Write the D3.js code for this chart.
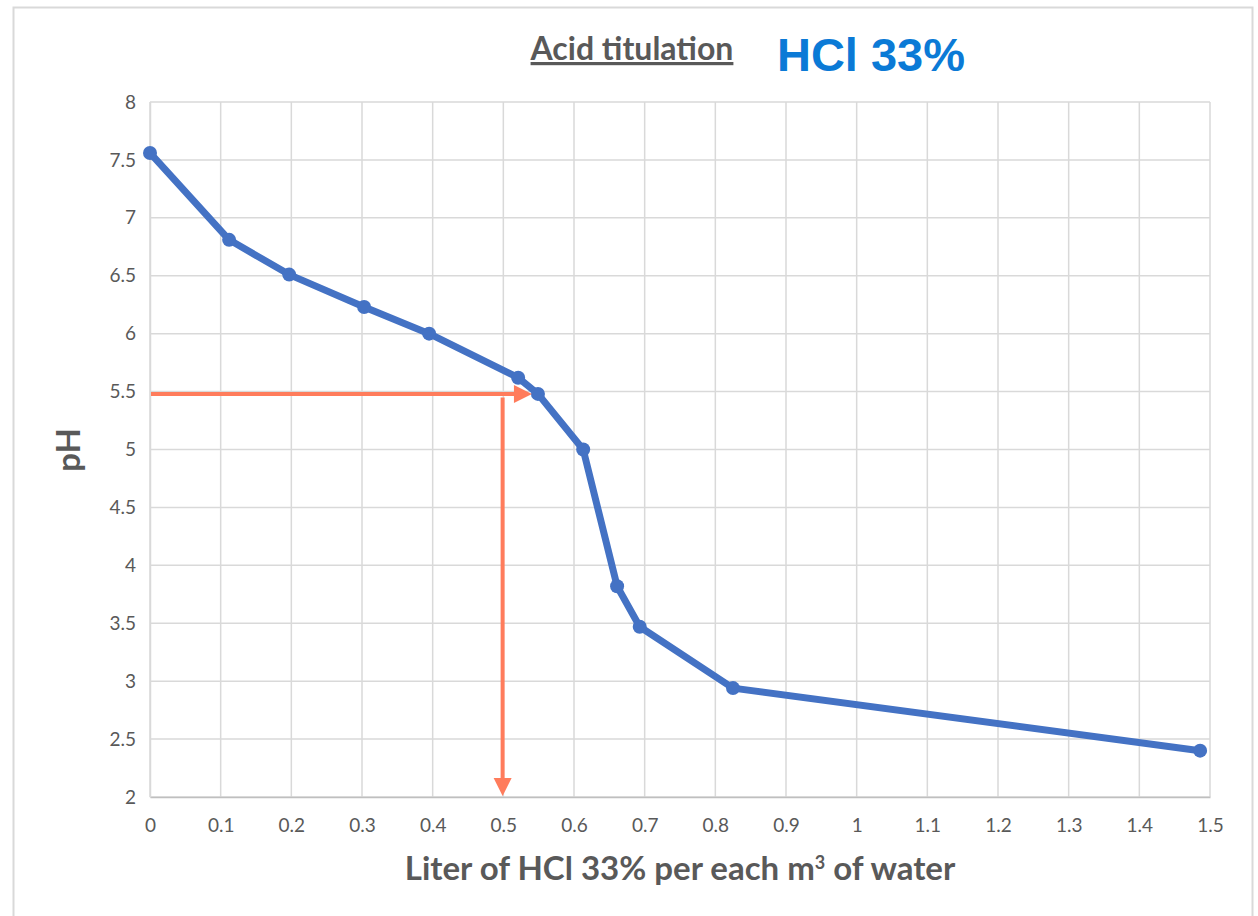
<!DOCTYPE html>
<html><head><meta charset="utf-8">
<script src="https://cdn.jsdelivr.net/npm/d3@7"></script>
<style>body{margin:0;background:#fff}svg{display:block}</style>
</head><body>
<svg id="c" width="1258" height="916"></svg>
<script>
const xValues = [0, 0.112, 0.197, 0.303, 0.395, 0.521, 0.549, 0.613, 0.661, 0.693, 0.825, 1.486];
const phValues = [7.56, 6.81, 6.51, 6.23, 6.0, 5.62, 5.48, 5.0, 3.82, 3.47, 2.94, 2.40];
const xTicks = [0,0.1,0.2,0.3,0.4,0.5,0.6,0.7,0.8,0.9,1,1.1,1.2,1.3,1.4,1.5];
const yTicks = [2,2.5,3,3.5,4,4.5,5,5.5,6,6.5,7,7.5,8];
const hArrow = {x0: 0, x1: 0.549, y: 5.48};
const vArrow = {x: 0.499, y0: 5.45, y1: 2.0};

const svg = d3.select('#c');
const font = 'Lato, "Open Sans", sans-serif';
// outer border
svg.append('path').attr('d','M13.5,930 V7.5 H1252.5 V930').attr('fill','none').attr('stroke','#d9d9d9').attr('stroke-width',2);

const x = d3.scaleLinear().domain([0,1.5]).range([150,1210]);
const y = d3.scaleLinear().domain([2,8]).range([797,102]);

const g = svg.append('g');
// gridlines
g.selectAll('.vg').data(xTicks).join('line').attr('x1',d=>x(d)).attr('x2',d=>x(d)).attr('y1',y(8)).attr('y2',y(2)).attr('stroke','#d9d9d9').attr('stroke-width',1.5);
g.selectAll('.hg').data(yTicks).join('line').attr('x1',x(0)).attr('x2',x(1.5)).attr('y1',d=>y(d)).attr('y2',d=>y(d)).attr('stroke','#d9d9d9').attr('stroke-width',1.5);

// axes
const xAxis = d3.axisBottom(x).tickValues(xTicks).tickSize(0).tickPadding(22).tickFormat(d=>String(+d.toFixed(1)));
const yAxis = d3.axisLeft(y).tickValues(yTicks).tickSize(0).tickPadding(14).tickFormat(d=>String(d));
const xa = svg.append('g').attr('transform',`translate(0,${y(2)})`).call(xAxis);
xa.select('.domain').attr('stroke','#bfbfbf').attr('stroke-width',1.5);
const ya = svg.append('g').attr('transform',`translate(${x(0)},0)`).call(yAxis);
ya.select('.domain').attr('stroke','#d9d9d9').attr('stroke-width',1.5);
svg.selectAll('.tick text').attr('font-family',font).attr('font-size',19).attr('fill','#595959');

// data line
const line = d3.line().x((d,i)=>x(xValues[i])).y(d=>y(d));
svg.append('path').datum(phValues).attr('d',line).attr('fill','none').attr('stroke','#4472c4').attr('stroke-width',7).attr('stroke-linejoin','round');
svg.selectAll('.pt').data(phValues).join('circle').attr('cx',(d,i)=>x(xValues[i])).attr('cy',d=>y(d)).attr('r',7).attr('fill','#4472c4');

// arrows
const ac = '#ff7c5c';
const hx1 = x(hArrow.x1)-6, hy = y(hArrow.y);
svg.append('line').attr('x1',x(hArrow.x0)+1).attr('x2',hx1-14).attr('y1',hy).attr('y2',hy).attr('stroke',ac).attr('stroke-width',4);
svg.append('path').attr('d',`M${hx1},${hy} L${hx1-18},${hy-9} L${hx1-18},${hy+9} Z`).attr('fill',ac);
const vx = x(vArrow.x), vy0 = y(vArrow.y0), vy1 = y(vArrow.y1)-1;
svg.append('line').attr('x1',vx).attr('x2',vx).attr('y1',vy0).attr('y2',vy1-14).attr('stroke',ac).attr('stroke-width',4);
svg.append('path').attr('d',`M${vx},${vy1} L${vx-9},${vy1-18} L${vx+9},${vy1-18} Z`).attr('fill',ac);

// titles
svg.append('text').attr('x',632).attr('y',60).attr('text-anchor','middle').attr('font-family',font).attr('font-weight','bold').attr('font-size',32).attr('fill','#595959').attr('text-decoration','underline').text('Acid titulation');
svg.append('text').attr('x',871).attr('y',71).attr('text-anchor','middle').attr('font-family','"Liberation Sans", Arial, sans-serif').attr('font-weight','bold').attr('font-size',47).attr('fill','#0b7ad6').text('HCl 33%');

const xt = svg.append('text').attr('x',680).attr('y',880).attr('text-anchor','middle').attr('font-family',font).attr('font-weight','bold').attr('font-size',33).attr('fill','#595959');
xt.append('tspan').text('Liter of HCl 33% per each m');
xt.append('tspan').attr('font-size',18).attr('dy',-11).text('3');
xt.append('tspan').attr('dy',11).text(' of water');

svg.append('text').attr('transform','translate(80,450) rotate(-90)').attr('text-anchor','middle').attr('font-family',font).attr('font-weight','bold').attr('font-size',33).attr('fill','#595959').text('pH');
</script>
</body></html>
